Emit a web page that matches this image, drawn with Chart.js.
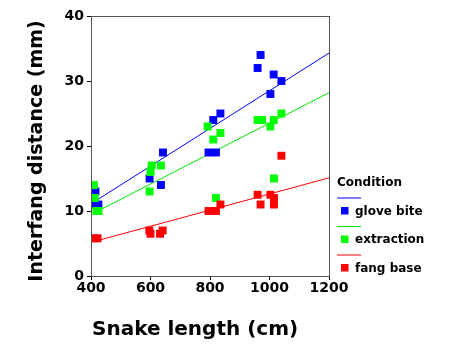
<!DOCTYPE html>
<html><head><meta charset="utf-8">
<script src="https://cdn.jsdelivr.net/npm/chart.js@4/dist/chart.umd.min.js"></script>
<style>html,body{margin:0;padding:0;background:#fff}</style>
</head><body>
<canvas id="c" width="450" height="355" style="display:block;width:450px;height:355px"></canvas>
<script>
const xTitle = 'Snake length (cm)';
const yTitle = 'Interfang distance (mm)';
const legendTitle = 'Condition';
const conditions = ['glove bite', 'extraction', 'fang base'];
const xTicks = [400, 600, 800, 1000, 1200];
const yTicks = [0, 10, 20, 30, 40];

const gloveX = [410, 415, 425, 597, 635, 642, 795, 811, 820, 835, 960, 970, 1003, 1014, 1040];
const gloveY = [11, 13, 11, 15, 14, 19, 19, 24, 19, 25, 32, 34, 28, 31, 30];
const extractionX = [410, 412, 418, 425, 597, 600, 604, 635, 792, 811, 820, 835, 960, 975, 1003, 1014, 1015, 1040];
const extractionY = [14, 12, 10, 10, 13, 16, 17, 17, 23, 21, 12, 22, 24, 24, 23, 24, 15, 25];
const fangX = [410, 422, 596, 600, 632, 641, 795, 820, 835, 960, 970, 1003, 1015, 1015, 1040];
const fangY = [5.8, 5.8, 7, 6.5, 6.5, 7, 10, 10, 11, 12.5, 11, 12.5, 12, 11, 18.5];
const fitX = [410, 1200];
const gloveFit = [11.4, 34.3];
const extractionFit = [9.7, 28.2];
const fangFit = [5.3, 15.1];

const colors = ['#0000ff', '#00ff00', '#ff0000'];
const lineColors = ['#0000ff', '#00e600', '#ff0000'];
const FONT = "'DejaVu Sans', Verdana, sans-serif";

const pts = (xs, ys) => xs.map((x, i) => ({x: x, y: ys[i]}));

function scatterSet(label, xs, ys, ci, order) {
  return {type: 'scatter', label: label, data: pts(xs, ys), backgroundColor: colors[ci],
    borderColor: colors[ci], pointStyle: 'rect', pointRadius: 5.6, pointHoverRadius: 5.6,
    pointBorderWidth: 0, borderWidth: 0, order: order};
}
function fitSet(label, ys, ci) {
  return {type: 'line', label: label + ' fit', data: pts(fitX, ys), borderColor: lineColors[ci],
    borderWidth: 1, pointRadius: 0, fill: false, tension: 0, order: 5};
}

const overlay = {
  id: 'overlay',
  afterDraw(chart) {
    const ctx = chart.ctx, a = chart.chartArea;
    ctx.save();
    ctx.strokeStyle = '#555';
    ctx.lineWidth = 1;
    ctx.strokeRect(Math.round(a.left) + 0.5, Math.round(a.top) + 0.5,
      Math.round(a.right - a.left), Math.round(a.bottom - a.top));
    ctx.fillStyle = '#000';
    ctx.font = 'bold 20px ' + FONT;
    ctx.textAlign = 'left';
    ctx.textBaseline = 'alphabetic';
    ctx.fillText(xTitle, 92, 335);
    ctx.save();
    ctx.translate(42, 151);
    ctx.rotate(-Math.PI / 2);
    ctx.font = 'bold 19px ' + FONT;
    ctx.textAlign = 'center';
    ctx.fillText(yTitle, 0, 0);
    ctx.restore();
    ctx.font = 'bold 12px ' + FONT;
    ctx.textAlign = 'left';
    ctx.textBaseline = 'middle';
    ctx.fillText(legendTitle, 337, 183);
    conditions.forEach((name, i) => {
      const y0 = 197.5 + i * 28.5;
      ctx.strokeStyle = lineColors[i];
      ctx.beginPath();
      ctx.moveTo(337, y0 + 0.5);
      ctx.lineTo(361, y0 + 0.5);
      ctx.stroke();
      ctx.fillStyle = colors[i];
      ctx.fillRect(341, y0 + 9.5, 7.5, 7.5);
      ctx.fillStyle = '#000';
      ctx.fillText(name, 355, y0 + 14);
    });
    ctx.restore();
  }
};

new Chart(document.getElementById('c'), {
  data: {
    datasets: [
      scatterSet(conditions[0], gloveX, gloveY, 0, 3),
      scatterSet(conditions[1], extractionX, extractionY, 1, 2),
      scatterSet(conditions[2], fangX, fangY, 2, 1),
      fitSet(conditions[0], gloveFit, 0),
      fitSet(conditions[1], extractionFit, 1),
      fitSet(conditions[2], fangFit, 2)
    ]
  },
  options: {
    responsive: false,
    animation: false,
    devicePixelRatio: 1,
    layout: {padding: {top: 16, right: 121, bottom: 0, left: 0}},
    plugins: {legend: {display: false}, tooltip: {enabled: false}},
    scales: {
      x: {
        type: 'linear', min: 400, max: 1200,
        afterBuildTicks: s => { s.ticks = xTicks.map(v => ({value: v})); },
        afterFit: s => { s.height = 79; },
        grid: {drawOnChartArea: false, drawTicks: true, tickLength: 4, color: '#000'},
        border: {display: true, color: '#555', width: 1},
        ticks: {color: '#000', font: {family: FONT, weight: 'bold', size: 14}, padding: 0, maxRotation: 0,
          callback: v => String(v)}
      },
      y: {
        type: 'linear', min: 0, max: 40,
        afterBuildTicks: s => { s.ticks = yTicks.map(v => ({value: v})); },
        afterFit: s => { s.width = 91; },
        grid: {drawOnChartArea: false, drawTicks: true, tickLength: 4, color: '#000'},
        border: {display: true, color: '#555', width: 1},
        ticks: {color: '#000', font: {family: FONT, weight: 'bold', size: 14}, padding: 3,
          callback: v => String(v)}
      }
    }
  },
  plugins: [overlay]
});
</script>
</body></html>
